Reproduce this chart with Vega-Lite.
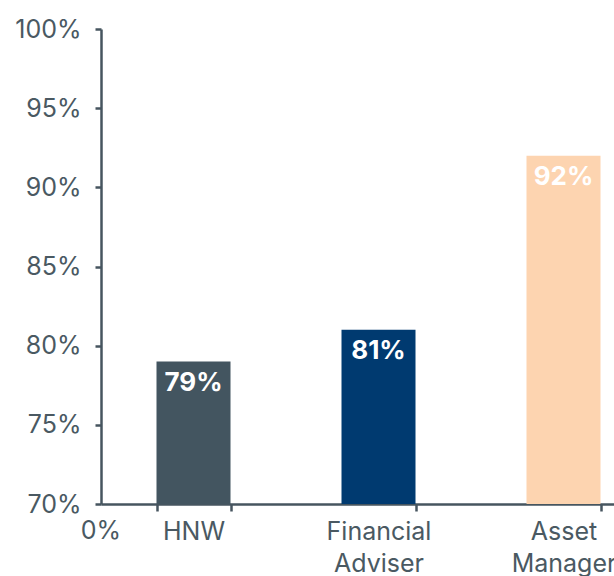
{
  "$schema": "https://vega.github.io/schema/vega-lite/v6.json",
  "autosize": {"type": "none"},
  "width": 512,
  "height": 475,
  "padding": {"left": 101, "top": 29, "right": 1, "bottom": 72},
  "background": "white",
  "config": {
    "view": {"stroke": null},
    "font": "Inter",
    "axis": {"grid": false}
  },
  "data": {
    "values": [
      {"category": "HNW", "value": 0.79, "label": "79%", "color": "HNW"},
      {"category": "Financial Adviser", "value": 0.81, "label": "81%", "color": "Financial Adviser"},
      {"category": "Asset Manager", "value": 0.92, "label": "92%", "color": "Asset Manager"}
    ]
  },
  "layer": [
    {
      "mark": {"type": "bar"},
      "encoding": {
        "x": {
          "field": "category",
          "type": "nominal",
          "sort": null,
          "scale": {"range": [0, 555], "paddingInner": 0.6, "paddingOuter": 0.3},
          "axis": {
            "title": null,
            "labelAngle": 0,
            "labelExpr": "datum.value == 'Financial Adviser' ? ['Financial', 'Adviser'] : datum.value == 'Asset Manager' ? ['Asset', 'Manager'] : datum.value",
            "labelFontSize": 25,
            "labelFont": "Inter",
            "labelLineHeight": 32,
            "labelColor": "#4a5962",
            "labelPadding": 8,
            "labelBaseline": "top",
            "domainColor": "#46555f",
            "domainWidth": 2.5,
            "tickColor": "#46555f",
            "tickWidth": 2.5,
            "tickSize": 7,
            "tickBand": "extent"
          }
        },
        "y": {
          "field": "value",
          "type": "quantitative",
          "scale": {"domain": [0.7, 1.0], "zero": false, "nice": false},
          "axis": {
            "title": null,
            "format": ".0%",
            "values": [0.7, 0.75, 0.8, 0.85, 0.9, 0.95, 1.0],
            "labelFontSize": 25,
            "labelFont": "Inter",
            "labelColor": "#4a5962",
            "labelPadding": 14,
            "domainColor": "#46555f",
            "domainWidth": 2.5,
            "tickColor": "#46555f",
            "tickWidth": 2.5,
            "tickSize": 6
          }
        },
        "y2": {"datum": 0.7},
        "color": {
          "field": "color",
          "type": "nominal",
          "scale": {
            "domain": ["HNW", "Financial Adviser", "Asset Manager"],
            "range": ["#435560", "#003a70", "#fdd4b0"]
          },
          "legend": null
        }
      }
    },
    {
      "mark": {"type": "text", "color": "white", "fontWeight": "bold", "fontSize": 26, "baseline": "top", "dy": 8},
      "encoding": {
        "x": {"field": "category", "type": "nominal", "sort": null},
        "y": {"field": "value", "type": "quantitative"},
        "text": {"field": "label"}
      }
    },
    {
      "data": {"values": [{"category": "HNW", "base": 0.7, "label": "0%"}]},
      "mark": {"type": "text", "color": "#4a5962", "fontSize": 25, "baseline": "top", "dy": 15, "dx": -55.5},
      "encoding": {
        "x": {"field": "category", "type": "nominal", "sort": null, "bandPosition": 0},
        "y": {"field": "base", "type": "quantitative"},
        "text": {"field": "label"}
      }
    }
  ]
}
